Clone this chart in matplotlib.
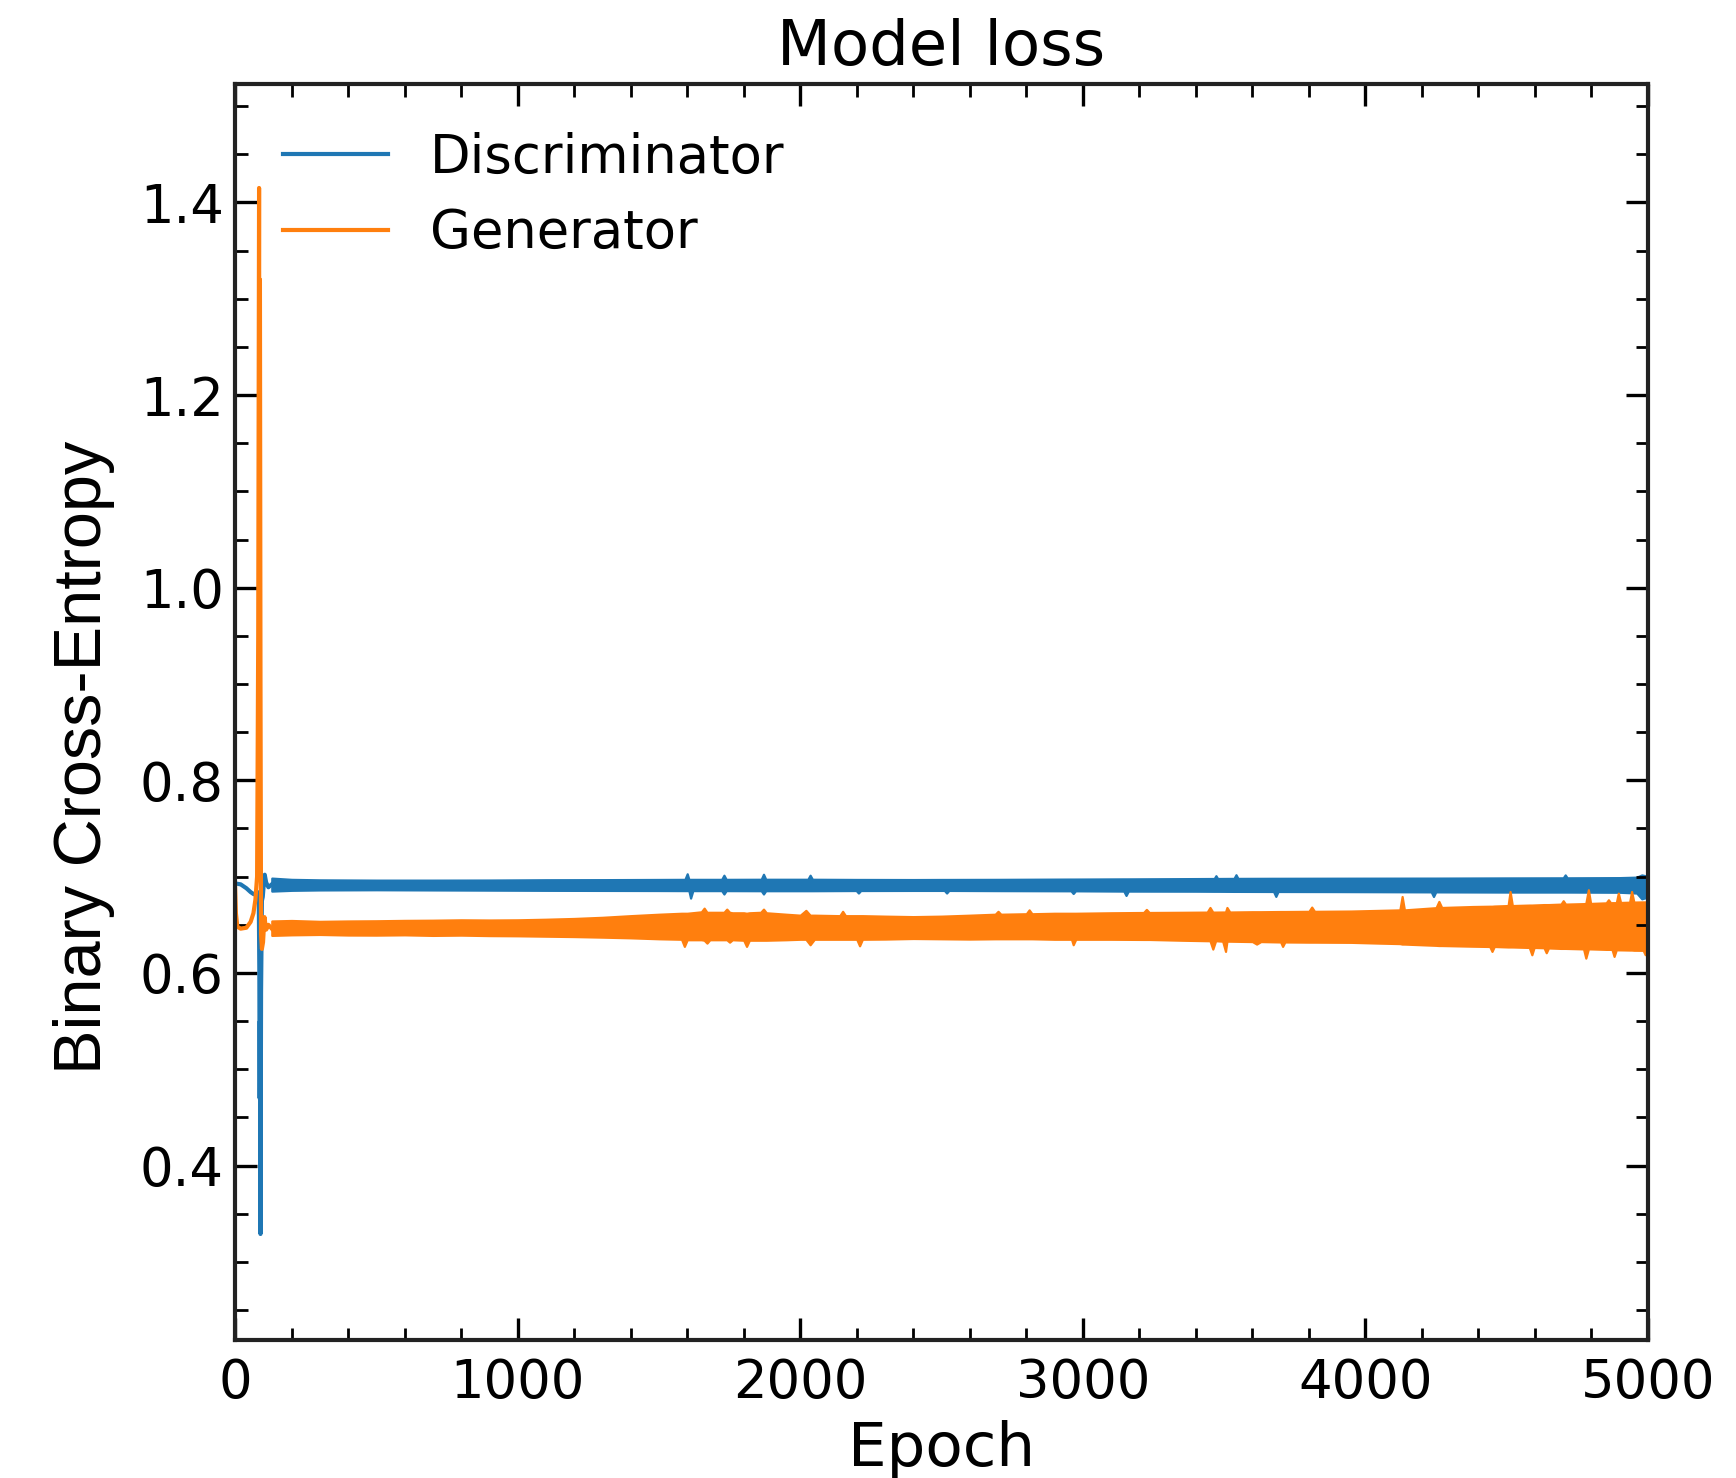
import matplotlib
matplotlib.use("Agg")
import matplotlib.pyplot as plt
from matplotlib.ticker import MultipleLocator

# -------------------------
# データ
# -------------------------
# 最初の 130 エポック（スパイク部分）
d_start_epoch = [0, 20, 40, 55, 65, 75, 80, 84, 86, 87, 88, 90, 92, 95, 98, 101, 105, 110, 118, 130]
d_start_loss = [0.693, 0.692, 0.688, 0.684, 0.682, 0.681, 0.684, 0.675, 0.60, 0.47, 0.55, 0.329,
                0.58, 0.675, 0.679, 0.690, 0.702, 0.694, 0.689, 0.692]

g_start_epoch = [0, 3, 8, 20, 40, 55, 65, 72, 78, 82, 85, 86, 87, 88, 90, 92, 95, 99, 104, 110, 118, 130]
g_start_loss = [0.690, 0.662, 0.648, 0.646, 0.647, 0.653, 0.662, 0.676, 0.70, 0.95, 1.415, 1.10,
                1.25, 1.32, 0.90, 0.640, 0.625, 0.632, 0.658, 0.645, 0.650, 0.646]

# 130 エポック以降：ノイズ帯の上端 / 下端
d_band_epoch = [130, 200, 300, 500, 700, 900, 1100, 1300, 1500, 1592, 1600, 1606, 1612, 1620,
                1722, 1730, 1738, 1862, 1870, 1878, 2027, 2035, 2043, 2198, 2206, 2214, 2400,
                2510, 2518, 2526, 2700, 2958, 2966, 2974, 3145, 3153, 3161, 3400, 3465, 3471,
                3477, 3535, 3542, 3549, 3675, 3683, 3691, 3900, 4233, 4241, 4249, 4500, 4700,
                4707, 4714, 4900, 4960, 4978, 4990, 5000]
d_band_upper = [0.6985, 0.6972, 0.6967, 0.6964, 0.6964, 0.6965, 0.6968, 0.6969, 0.6971, 0.6972,
                0.7030, 0.6972, 0.6972, 0.6972, 0.6972, 0.7015, 0.6972, 0.6973, 0.7025, 0.6973,
                0.6973, 0.7015, 0.6973, 0.6971, 0.6971, 0.6971, 0.6970, 0.6971, 0.6971, 0.6971,
                0.6972, 0.6975, 0.6975, 0.6975, 0.6977, 0.6977, 0.6977, 0.6980, 0.6981, 0.7010,
                0.6981, 0.6982, 0.7020, 0.6982, 0.6983, 0.6983, 0.6983, 0.6984, 0.6985, 0.6985,
                0.6985, 0.6987, 0.6988, 0.7018, 0.6988, 0.6990, 0.6995, 0.7018, 0.7010, 0.6990]
d_band_lower = [0.6850, 0.6858, 0.6862, 0.6864, 0.6862, 0.6860, 0.6858, 0.6857, 0.6856, 0.6855,
                0.6855, 0.6855, 0.6777, 0.6855, 0.6855, 0.6820, 0.6855, 0.6854, 0.6820, 0.6854,
                0.6854, 0.6854, 0.6854, 0.6856, 0.6830, 0.6856, 0.6857, 0.6857, 0.6830, 0.6857,
                0.6855, 0.6853, 0.6825, 0.6853, 0.6850, 0.6805, 0.6850, 0.6849, 0.6848, 0.6848,
                0.6848, 0.6847, 0.6847, 0.6847, 0.6846, 0.6795, 0.6846, 0.6845, 0.6842, 0.6794,
                0.6842, 0.6840, 0.6840, 0.6840, 0.6840, 0.6838, 0.6830, 0.6770, 0.6780, 0.6800]

g_band_epoch = [130, 200, 300, 400, 500, 600, 700, 800, 900, 1000, 1100, 1200, 1300, 1400, 1500,
                1580, 1590, 1600, 1650, 1660, 1670, 1680, 1730, 1740, 1750, 1760, 1800, 1810, 1820,
                1860, 1870, 1880, 1950, 2000, 2020, 2035, 2050, 2140, 2150, 2160, 2200, 2210, 2220,
                2300, 2400, 2500, 2600, 2690, 2700, 2710, 2800, 2810, 2820, 2900, 2960, 2966, 2975,
                3100, 3215, 3225, 3235, 3350, 3440, 3450, 3460, 3470, 3495, 3505, 3510, 3520, 3600,
                3615, 3630, 3700, 3707, 3715, 3800, 3810, 3820, 3950, 4050, 4122, 4130, 4138, 4250,
                4260, 4270, 4380, 4440, 4448, 4456, 4505, 4512, 4520, 4580, 4589, 4597, 4632, 4640,
                4648, 4692, 4700, 4708, 4772, 4780, 4789, 4797, 4852, 4860, 4868, 4873, 4880, 4888,
                4895, 4903, 4935, 4942, 4950, 4983, 4990, 5000]
g_band_upper = [0.6540, 0.6545, 0.6536, 0.6540, 0.6542, 0.6546, 0.6548, 0.6552, 0.6550, 0.6552,
                0.6558, 0.6566, 0.6578, 0.6595, 0.6610, 0.6620, 0.6620, 0.6620, 0.6635, 0.6673,
                0.6630, 0.6630, 0.6630, 0.6663, 0.6630, 0.6625, 0.6625, 0.6620, 0.6625, 0.6630,
                0.6663, 0.6625, 0.6610, 0.6600, 0.6650, 0.6600, 0.6600, 0.6595, 0.6640, 0.6595,
                0.6595, 0.6595, 0.6595, 0.6590, 0.6585, 0.6590, 0.6600, 0.6610, 0.6640, 0.6610,
                0.6615, 0.6655, 0.6615, 0.6620, 0.6620, 0.6620, 0.6620, 0.6625, 0.6628, 0.6660,
                0.6628, 0.6630, 0.6632, 0.6680, 0.6632, 0.6632, 0.6633, 0.6633, 0.6680, 0.6633,
                0.6636, 0.6636, 0.6636, 0.6638, 0.6638, 0.6638, 0.6640, 0.6684, 0.6640, 0.6643,
                0.6650, 0.6655, 0.6794, 0.6655, 0.6678, 0.6743, 0.6680, 0.6690, 0.6693, 0.6693,
                0.6695, 0.6700, 0.6846, 0.6700, 0.6705, 0.6705, 0.6706, 0.6710, 0.6710, 0.6710,
                0.6715, 0.6750, 0.6715, 0.6720, 0.6722, 0.6864, 0.6722, 0.6728, 0.6760, 0.6728,
                0.6730, 0.6730, 0.6730, 0.6829, 0.6732, 0.6735, 0.6846, 0.6736, 0.6738, 0.6738,
                0.6740]
g_band_lower = [0.6390, 0.6396, 0.6400, 0.6394, 0.6393, 0.6396, 0.6390, 0.6393, 0.6388, 0.6386,
                0.6382, 0.6378, 0.6372, 0.6365, 0.6355, 0.6350, 0.6276, 0.6345, 0.6345, 0.6340,
                0.6310, 0.6345, 0.6345, 0.6345, 0.6320, 0.6345, 0.6340, 0.6276, 0.6340, 0.6340,
                0.6340, 0.6340, 0.6345, 0.6350, 0.6350, 0.6293, 0.6350, 0.6350, 0.6350, 0.6350,
                0.6350, 0.6282, 0.6350, 0.6352, 0.6358, 0.6355, 0.6352, 0.6355, 0.6355, 0.6355,
                0.6355, 0.6355, 0.6355, 0.6350, 0.6350, 0.6293, 0.6350, 0.6350, 0.6348, 0.6348,
                0.6348, 0.6340, 0.6335, 0.6335, 0.6248, 0.6335, 0.6330, 0.6224, 0.6330, 0.6330,
                0.6326, 0.6300, 0.6326, 0.6322, 0.6276, 0.6322, 0.6320, 0.6320, 0.6320, 0.6318,
                0.6310, 0.6305, 0.6300, 0.6300, 0.6287, 0.6285, 0.6285, 0.6278, 0.6275, 0.6224,
                0.6275, 0.6270, 0.6270, 0.6270, 0.6265, 0.6189, 0.6265, 0.6262, 0.6210, 0.6260,
                0.6255, 0.6255, 0.6255, 0.6250, 0.6154, 0.6250, 0.6250, 0.6245, 0.6245, 0.6245,
                0.6242, 0.6172, 0.6242, 0.6240, 0.6240, 0.6238, 0.6238, 0.6236, 0.6235, 0.6190,
                0.6230]

labels = ["Discriminator", "Generator"]
c_d = "#1f77b4"
c_g = "#ff7f0e"

# -------------------------
# 描画
# -------------------------
plt.rcParams["font.family"] = ["DejaVu Sans"]
fig, ax = plt.subplots(figsize=(8.68, 7.39), dpi=200)
fig.subplots_adjust(left=0.1354, right=0.9493, top=0.9432, bottom=0.0934)

ax.plot(d_start_epoch, d_start_loss, color=c_d, lw=1.5, label=labels[0])
ax.fill_between(d_band_epoch, d_band_lower, d_band_upper, color=c_d, lw=0.8, edgecolor=c_d)
ax.plot(g_start_epoch, g_start_loss, color=c_g, lw=1.5, label=labels[1])
ax.fill_between(g_band_epoch, g_band_lower, g_band_upper, color=c_g, lw=0.8, edgecolor=c_g)

ax.set_xlim(0, 5000)
ax.set_ylim(0.219, 1.523)
ax.xaxis.set_major_locator(MultipleLocator(1000))
ax.xaxis.set_minor_locator(MultipleLocator(200))
ax.yaxis.set_major_locator(MultipleLocator(0.2))
ax.yaxis.set_minor_locator(MultipleLocator(0.05))
ax.tick_params(which="both", direction="in", top=True, right=True, labelsize=19)
ax.tick_params(axis="x", pad=6)
ax.tick_params(axis="y", pad=4)
ax.tick_params(which="major", length=8, width=1.2)
ax.tick_params(which="minor", length=4.5, width=1.0)
for s in ax.spines.values():
    s.set_linewidth(1.5)
    s.set_color("#222222")

ax.set_title("Model loss", fontsize=22.5, pad=7)
ax.set_xlabel("Epoch", fontsize=22, labelpad=4)
ax.set_ylabel("Binary Cross-Entropy", fontsize=24, family=["Liberation Sans", "DejaVu Sans"])
ax.yaxis.set_label_coords(-0.085, 0.464)
ax.legend(loc="upper left", frameon=False, fontsize=19, labelspacing=0.45)

plt.savefig("out.png", dpi=200)
